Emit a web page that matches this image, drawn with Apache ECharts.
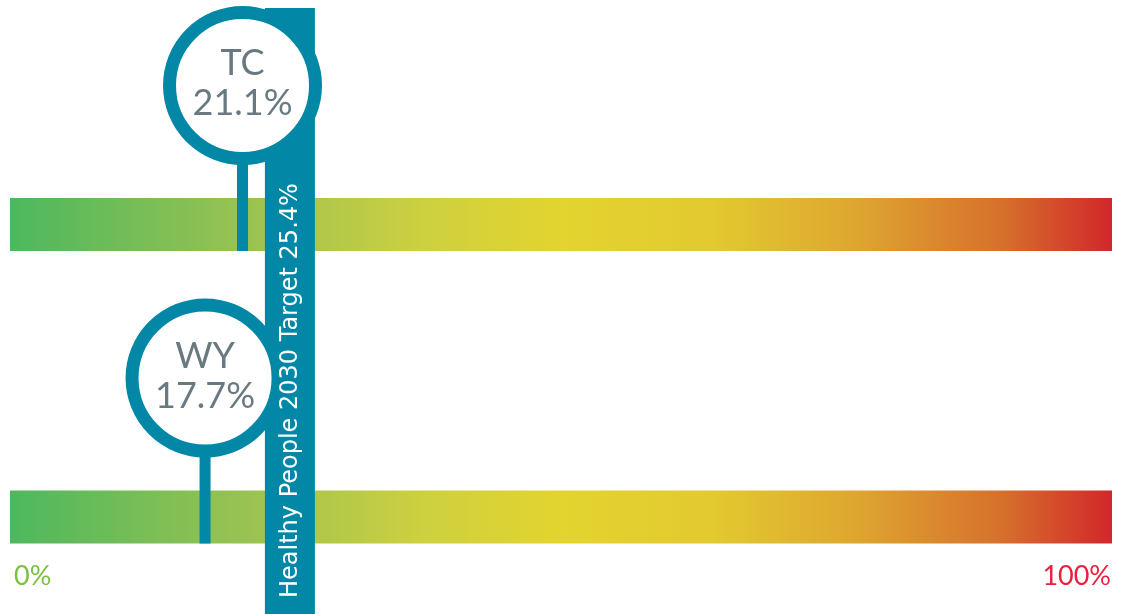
<!DOCTYPE html>
<html>
<head>
<meta charset="utf-8">
<style>
  html, body { margin: 0; padding: 0; background: #ffffff; }
  #chart { width: 1123px; height: 614px; }
</style>
<script src="https://cdn.jsdelivr.net/npm/echarts@6/dist/echarts.min.js"></script>
</head>
<body>
<div id="chart"></div>
<script>
// Rows (top to bottom) and their rates, in percent
const regions = ['TC', 'WY'];
const rates = [21.1, 17.7];
// Healthy People 2030 target
const targetLabel = 'Healthy People 2030 Target';
const targetValue = 25.4;
// Scale ends and their labels
const scaleMin = 0;
const scaleMax = 100;
const scaleLabels = ['0%', '100%'];

const TEAL = '#0288a6';
const TEXT_GREY = '#687a80';
const BAR_H = 53;
const RING_R = 73;
const RING_W = 13;
const CIRCLE_OFFSET = 139;   // circle centre above the bar centre
const STEM_W = 11;
const BAND_W = 50;
const FONT = 'Lato, "DejaVu Sans", sans-serif';
const BAND_FONT = '"DejaVu Sans", sans-serif';

const gradient = new echarts.graphic.LinearGradient(0, 0, 1, 0, [
  { offset: 0.00, color: '#4db85e' },
  { offset: 0.25, color: '#a6c44f' },
  { offset: 0.37, color: '#ccd040' },
  { offset: 0.50, color: '#e3d42f' },
  { offset: 0.64, color: '#e2c930' },
  { offset: 0.77, color: '#dea530' },
  { offset: 0.90, color: '#d6702c' },
  { offset: 1.00, color: '#d2272a' }
]);

// vertical extent of the target band, from the grid rectangle
function bandExtent(coordSys) {
  return {
    top: coordSys.y - 216.5,
    bottom: coordSys.y + coordSys.height + 97
  };
}

const chart = echarts.init(document.getElementById('chart'));

chart.setOption({
  animation: false,
  backgroundColor: '#ffffff',
  grid: { left: 10, right: 11, top: 224.5, bottom: 97, containLabel: false },
  xAxis: {
    type: 'value',
    min: scaleMin,
    max: scaleMax,
    interval: scaleMax - scaleMin,
    axisLine: { show: false },
    axisTick: { show: false },
    splitLine: { show: false },
    axisLabel: {
      margin: 46,
      alignMinLabel: 'left',
      alignMaxLabel: 'right',
      formatter: function (v) {
        return v === scaleMin ? '{lo|' + scaleLabels[0] + '}' : '{hi|' + scaleLabels[1] + '}';
      },
      rich: {
        lo: { color: '#79c045', fontSize: 27, fontFamily: FONT, padding: [0, 0, 0, 4] },
        hi: { color: '#e8203e', fontSize: 27, fontFamily: FONT, padding: [0, 1, 0, 0] }
      }
    }
  },
  yAxis: {
    type: 'category',
    data: regions,
    inverse: true,
    boundaryGap: false,
    show: false
  },
  series: [
    {
      // gradient scale bars, one per row
      type: 'custom',
      z: 1,
      data: regions.map(function (r) { return [scaleMin, scaleMax, r]; }),
      encode: { x: [0, 1], y: 2 },
      renderItem: function (params, api) {
        const a = api.coord([api.value(0), api.value(2)]);
        const b = api.coord([api.value(1), api.value(2)]);
        return {
          type: 'rect',
          shape: { x: a[0], y: a[1] - BAR_H / 2, width: b[0] - a[0], height: BAR_H },
          style: { fill: gradient }
        };
      }
    },
    {
      // target band
      type: 'custom',
      z: 2,
      data: [[targetValue]],
      encode: { x: 0 },
      renderItem: function (params, api) {
        const x = api.coord([api.value(0), 0])[0];
        const ext = bandExtent(params.coordSys);
        return {
          type: 'rect',
          shape: { x: x - BAND_W / 2, y: ext.top, width: BAND_W, height: ext.bottom - ext.top },
          style: { fill: TEAL }
        };
      }
    },
    {
      // pin markers: stem, ring and value text
      type: 'custom',
      z: 3,
      data: regions.map(function (r, i) { return [rates[i], r]; }),
      encode: { x: 0, y: 1 },
      renderItem: function (params, api) {
        const p = api.coord([api.value(0), api.value(1)]);
        const cx = p[0];
        const cy = p[1] - CIRCLE_OFFSET;
        const stemTop = cy + RING_R + RING_W / 2 - 2;
        const stemBottom = p[1] + BAR_H / 2;
        const name = regions[params.dataIndex];
        return {
          type: 'group',
          children: [
            {
              type: 'rect',
              shape: { x: cx - STEM_W / 2, y: stemTop, width: STEM_W, height: stemBottom - stemTop },
              style: { fill: TEAL }
            },
            {
              type: 'circle',
              shape: { cx: cx, cy: cy, r: RING_R },
              style: { fill: '#ffffff', stroke: TEAL, lineWidth: RING_W }
            },
            {
              type: 'text',
              x: cx,
              y: cy - 2,
              style: {
                text: name + '\n' + api.value(0) + '%',
                fill: TEXT_GREY,
                fontFamily: FONT,
                fontSize: 36,
                lineHeight: 40,
                align: 'center',
                verticalAlign: 'middle'
              }
            }
          ]
        };
      }
    },
    {
      // caption of the target band, kept above everything else
      type: 'custom',
      z: 4,
      data: [[targetValue]],
      encode: { x: 0 },
      renderItem: function (params, api) {
        const x = api.coord([api.value(0), 0])[0];
        const ext = bandExtent(params.coordSys);
        return {
          type: 'text',
          x: x + 1,
          y: ext.bottom - 16,
          rotation: Math.PI / 2,
          style: {
            text: targetLabel + ' ' + api.value(0) + '%',
            fill: '#ffffff',
            fontFamily: BAND_FONT,
            fontSize: 24,
            align: 'left',
            verticalAlign: 'middle'
          }
        };
      }
    }
  ]
});
</script>
</body>
</html>
